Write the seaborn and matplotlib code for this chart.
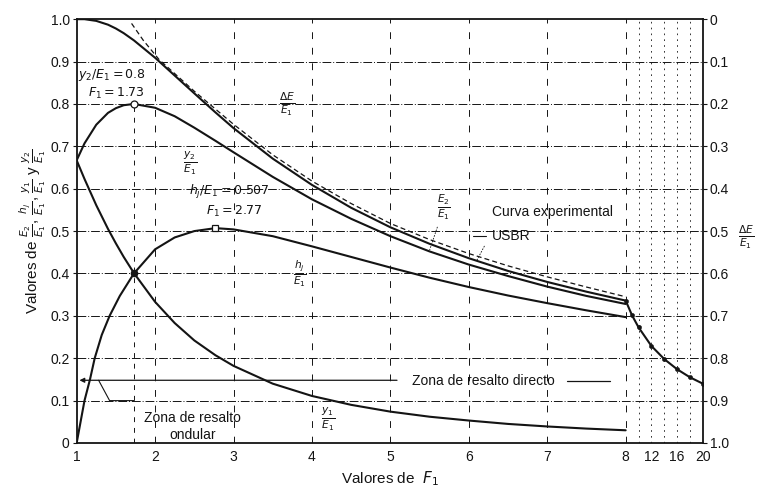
import numpy as np
import matplotlib
matplotlib.use("Agg")
import matplotlib.pyplot as plt
import seaborn as sns

# --- data ---
F_main = [1, 1.1, 1.25, 1.4, 1.5, 1.6, 1.73, 2, 2.25, 2.5, 2.77, 3, 3.5, 4, 4.5,
          5, 5.5, 6, 6.5, 7, 7.5, 8]
# upstream depth y1/E1
y1_E1 = [0.667, 0.623, 0.561, 0.505, 0.471, 0.439, 0.401, 0.333, 0.283, 0.242, 0.207,
         0.182, 0.140, 0.111, 0.090, 0.074, 0.062, 0.053, 0.045, 0.039, 0.034, 0.030]
# downstream depth y2/E1
y2_E1 = [0.667, 0.707, 0.751, 0.779, 0.790, 0.797, 0.800, 0.791, 0.771, 0.744, 0.713,
         0.686, 0.628, 0.575, 0.529, 0.488, 0.452, 0.421, 0.394, 0.369, 0.347, 0.328]

# jump height hj/E1
F_hj = [1, 1.05, 1.1, 1.17, 1.23, 1.32, 1.42, 1.55, 1.73, 2, 2.25, 2.5, 2.77, 3, 3.5,
        4, 4.5, 5, 5.5, 6, 6.5, 7, 7.5, 8]
hj_E1 = [0.0, 0.05, 0.10, 0.15, 0.20, 0.255, 0.30, 0.347, 0.40, 0.457, 0.485, 0.500,
         0.507, 0.504, 0.488, 0.464, 0.439, 0.414, 0.390, 0.368, 0.348, 0.330, 0.313, 0.297]

# specific energy after the jump E2/E1 (same curve as dE/E1 on right axis)
F_e2 = [1, 1.1, 1.25, 1.4, 1.5, 1.6, 1.73, 2, 2.25, 2.5, 2.77, 3, 3.5, 4, 4.5, 5, 5.5,
        6, 6.5, 7, 7.5, 8, 9, 10, 12, 14, 16, 18, 20]
E2_E1 = [1.0, 1.0, 0.996, 0.987, 0.978, 0.967, 0.950, 0.909, 0.867, 0.825, 0.780, 0.743,
         0.671, 0.609, 0.555, 0.509, 0.470, 0.436, 0.406, 0.380, 0.357, 0.336, 0.301,
         0.273, 0.229, 0.198, 0.174, 0.155, 0.140]

# experimental USBR curve (dashed)
F_usbr = [1.7, 1.85, 2.05, 2.5, 3, 3.5, 4, 4.5, 5, 5.5, 6, 6.5, 7, 7.5, 8]
usbr = [0.99, 0.95, 0.905, 0.83, 0.752, 0.68, 0.618, 0.565, 0.518, 0.48, 0.447,
        0.418, 0.392, 0.368, 0.345]

# experimental points past F1 = 8
F_pts = [8, 9, 10, 12, 14, 16, 18, 20]
pts = [0.336, 0.301, 0.273, 0.229, 0.198, 0.174, 0.155, 0.140]

x_ticks = [1, 2, 3, 4, 5, 6, 7, 8, 12, 16, 20]
y_ticks = [0, 0.1, 0.2, 0.3, 0.4, 0.5, 0.6, 0.7, 0.8, 0.9, 1.0]
y_labels = ["0", "0.1", "0.2", "0.3", "0.4", "0.5", "0.6", "0.7", "0.8", "0.9", "1.0"]

K = 0.082  # compression of the axis beyond F1 = 8


def fwd(f):
    f = np.asarray(f, dtype=float)
    return np.where(f <= 8, f, 8 + (f - 8) * K)


def inv(u):
    u = np.asarray(u, dtype=float)
    return np.where(u <= 8, u, 8 + (u - 8) / K)


sns.set_style("white")
plt.rcParams['font.family'] = ['Liberation Sans', 'DejaVu Sans']
plt.rcParams['mathtext.fontset'] = 'dejavusans'

INK = "#141414"
fig, ax = plt.subplots(figsize=(7.59, 4.92), dpi=100)
fig.subplots_adjust(left=0.101, right=0.926, bottom=0.0996, top=0.961)

# grid
for yv in y_ticks[1:-1]:
    ax.axhline(yv, color=INK, lw=0.7, ls=(0, (9, 2, 1, 2)), zorder=1)
for xv in [2, 3, 4, 5, 6, 7, 8]:
    ax.axvline(xv, color=INK, lw=0.7, ls=(0, (7, 9)), zorder=1)
for xv in [10, 12, 14, 16, 18]:
    ax.axvline(xv, color=INK, lw=0.6, ls=(0, (2, 5)), zorder=1)
ax.plot([1.73, 1.73], [0, 0.8], color=INK, lw=0.7, ls=(0, (5, 6)), zorder=1)

# curves
for xs, ys in [(F_main, y1_E1), (F_main, y2_E1), (F_hj, hj_E1), (F_e2, E2_E1)]:
    sns.lineplot(x=xs, y=ys, ax=ax, color=INK, lw=1.5, sort=False, estimator=None, zorder=3)
sns.lineplot(x=F_usbr, y=usbr, ax=ax, color=INK, lw=0.9, sort=False, estimator=None,
             zorder=3).lines[-1].set_linestyle((0, (4, 2.5)))
sns.scatterplot(x=F_pts, y=pts, ax=ax, color=INK, s=10, edgecolor=None, zorder=4)

ax.plot([1.73], [0.8], 'o', ms=5, mfc='white', mec=INK, mew=0.9, zorder=5)
ax.plot([2.77], [0.507], 's', ms=5, mfc='white', mec=INK, mew=0.9, zorder=5)
ax.plot([1.73], [0.4], 'o', ms=4.5, color=INK, zorder=5)

ax.set_xscale('function', functions=(fwd, inv))
ax.set_xlim(1, 20)
ax.set_ylim(0, 1.0)
ax.set_xticks(x_ticks)
ax.set_xticklabels([str(t) for t in x_ticks])
ax.set_yticks(y_ticks)
ax.set_yticklabels(y_labels)
ax.tick_params(axis='both', labelsize=10, length=3, color=INK, labelcolor=INK, pad=2)
for s in ax.spines.values():
    s.set_color(INK)
    s.set_linewidth(1.3)

ax.set_xlabel(r"Valores de  $F_1$", fontsize=11, color=INK, labelpad=4)
ax.set_ylabel(r"Valores de $\frac{E_2}{E_1}$, $\frac{h_j}{E_1}$, $\frac{y_1}{E_1}$ y $\frac{y_2}{E_1}$",
              fontsize=11, color=INK, labelpad=2)

ax2 = ax.twinx()
ax2.set_ylim(1.0, 0)
ax2.set_yticks(y_ticks)
ax2.set_yticklabels(y_labels)
ax2.tick_params(axis='y', labelsize=10, length=3, color=INK, labelcolor=INK, pad=2)
for s in ax2.spines.values():
    s.set_visible(False)
fig.text(0.983, 0.518, r"$\frac{\Delta E}{E_1}$", fontsize=11, color=INK, ha='center', va='center')

# annotations
fs = 9
ax.text(1.45, 0.868, r"$y_2/E_1 = 0.8$", fontsize=fs, ha='center', va='center', color=INK)
ax.text(1.5, 0.825, r"$F_1 = 1.73$", fontsize=fs, ha='center', va='center', color=INK)
ax.text(2.95, 0.592, r"$h_j/E_1 = 0.507$", fontsize=fs, ha='center', va='center', color=INK)
ax.text(3.0, 0.547, r"$F_1 = 2.77$", fontsize=fs, ha='center', va='center', color=INK)
ax.text(3.68, 0.80, r"$\frac{\Delta E}{E_1}$", fontsize=11, ha='center', va='center', color=INK)
ax.text(2.45, 0.66, r"$\frac{y_2}{E_1}$", fontsize=11, ha='center', va='center', color=INK)
ax.text(5.68, 0.555, r"$\frac{E_2}{E_1}$", fontsize=11, ha='center', va='center', color=INK)
ax.text(3.85, 0.40, r"$\frac{h_j}{E_1}$", fontsize=11, ha='center', va='center', color=INK)
ax.text(4.2, 0.055, r"$\frac{y_1}{E_1}$", fontsize=11, ha='center', va='center', color=INK)
ax.text(6.3, 0.545, "Curva experimental", fontsize=10, ha='left', va='center', color=INK)
ax.text(6.3, 0.488, "USBR", fontsize=10, ha='left', va='center', color=INK)
ax.plot([6.05, 6.22], [0.488, 0.488], color=INK, lw=0.8)
ax.plot([5.6, 5.5], [0.51, 0.455], color=INK, lw=0.6, ls=(0, (2, 1.5)))
ax.plot([6.2, 6.1], [0.465, 0.43], color=INK, lw=0.6, ls=(0, (2, 1.5)))

ax.text(6.18, 0.146, "Zona de resalto directo", fontsize=10, ha='center', va='center', color=INK)
ax.annotate("", xy=(1.0, 0.148), xytext=(5.12, 0.148),
            arrowprops=dict(arrowstyle='-|>', color=INK, lw=0.9, mutation_scale=7))
ax.plot([7.25, 7.8], [0.146, 0.146], color=INK, lw=0.9)
ax.plot([1.28, 1.42, 1.73], [0.148, 0.1, 0.1], color=INK, lw=0.8)
ax.text(2.48, 0.058, "Zona de resalto", fontsize=10, ha='center', va='center', color=INK)
ax.text(2.48, 0.018, "ondular", fontsize=10, ha='center', va='center', color=INK)

plt.savefig("out.png", dpi=100)
